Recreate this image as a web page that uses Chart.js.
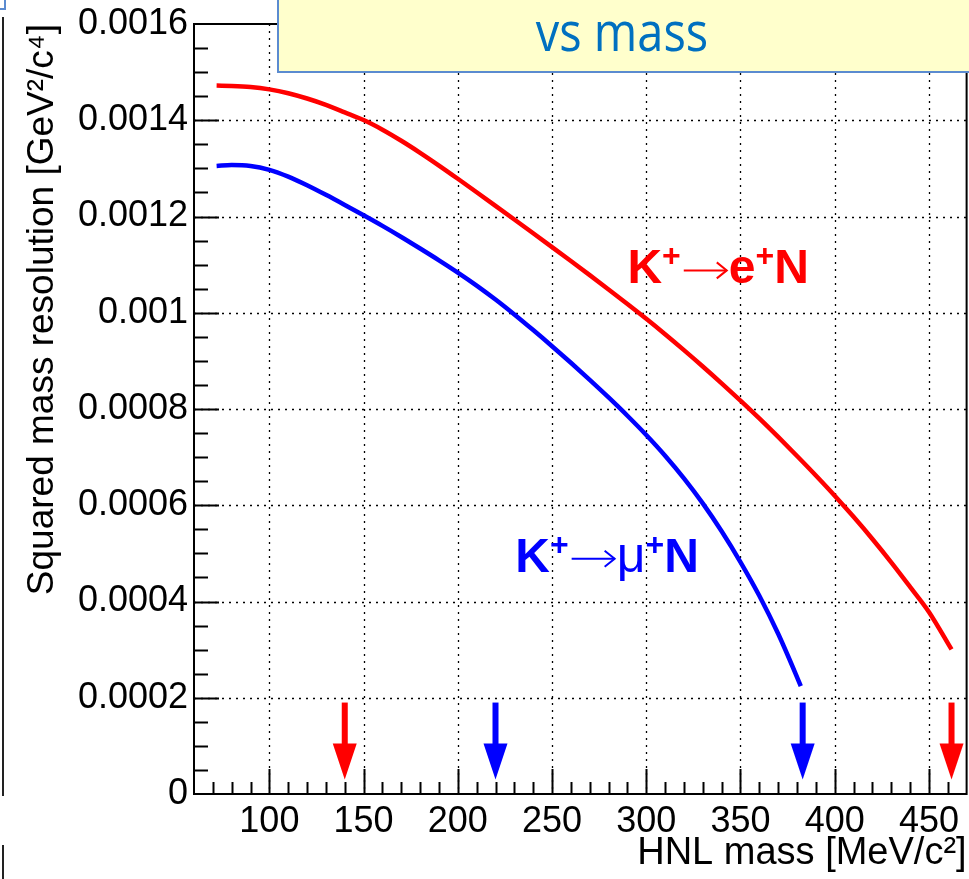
<!DOCTYPE html>
<html lang="en">
<head>
  <meta charset="UTF-8" />
  <title>Squared mass resolution vs mass</title>
  <script src="https://cdn.jsdelivr.net/npm/chart.js"></script>
  <style>
    html, body { margin: 0; padding: 0; background: #fff; }
    #wrap { position: relative; width: 969px; height: 879px; overflow: hidden; }
    #slideBox {
      position: absolute; left: 277px; top: -4px; width: 720px; height: 73px;
      background: #ffffcc; border: 2px solid #5b8bd0;
    }
    #slideTitle {
      position: absolute; left: 472px; top: 3px; width: 300px;
      text-align: center; font-family: "Open Sans", sans-serif; font-size: 54px; line-height: 54px;
      color: #0070c0; transform: scaleX(0.87);
    }
    .edge { position: absolute; left: 2px; width: 0; border-left: 2px solid #222; }
    #cornerBox { position: absolute; left: -12px; top: -6px; width: 14px; height: 12px; border: 2px solid #5b8bd0; }
  </style>
</head>
<body>
<div id="wrap">
  <canvas id="chart"></canvas>
  <div id="cornerBox"></div>
  <div class="edge" style="top:17px;height:779px;"></div>
  <div class="edge" style="top:845px;height:40px;"></div>
  <div id="slideBox"></div>
  <div id="slideTitle">vs mass</div>
</div>

<script>
  // K+ -> e+ N curve
  const massE = [72, 80, 90, 100, 110, 120, 130, 140, 150, 160, 170, 180, 190, 200, 210, 220, 230, 240, 250,
                 260, 270, 280, 290, 300, 310, 320, 330, 340, 350, 360, 370, 380, 390, 400, 410, 420, 430,
                 440, 450, 462];
  const resE = [0.0014720, 0.0014714, 0.0014692, 0.0014642, 0.0014562, 0.0014452, 0.0014320, 0.0014164,
                0.0014004, 0.0013804, 0.0013574, 0.0013324, 0.0013059, 0.0012784, 0.0012504, 0.0012222,
                0.0011938, 0.0011652, 0.0011364, 0.0011074, 0.0010781, 0.0010484, 0.0010182, 0.0009874,
                0.0009554, 0.0009224, 0.0008884, 0.0008534, 0.0008174, 0.0007804, 0.0007419, 0.0007024,
                0.0006619, 0.0006199, 0.0005759, 0.0005299, 0.0004814, 0.0004304, 0.0003784, 0.0003004];

  // K+ -> mu+ N curve
  const massMu = [72, 80, 90, 100, 110, 120, 130, 140, 150, 160, 170, 180, 190, 200, 210, 220, 230, 240,
                  250, 260, 270, 280, 290, 300, 310, 320, 330, 340, 350, 360, 370, 380, 382];
  const resMu = [0.0013050, 0.0013070, 0.0013050, 0.0012970, 0.0012830, 0.0012650, 0.0012450, 0.0012240,
                 0.0012025, 0.0011805, 0.0011575, 0.0011335, 0.0011090, 0.0010835, 0.0010565, 0.0010275,
                 0.0009965, 0.0009640, 0.0009305, 0.0008960, 0.0008605, 0.0008240, 0.0007860, 0.0007460,
                 0.0007030, 0.0006560, 0.0006040, 0.0005460, 0.0004820, 0.0004120, 0.0003330, 0.0002430,
                 0.0002240];

  // kinematic limit arrows (mass) and their vertical extent
  const arrowsE = [140, 462];
  const arrowsMu = [220, 383];
  const arrowTop = 0.00019, arrowHead = 0.000105, arrowTip = 0.00003;

  // text labels: anchor (mass, resolution) of the left baseline
  const labelE = [290, 0.001061];
  const labelMu = [230.5, 0.000462];

  const xTicks = [100, 150, 200, 250, 300, 350, 400, 450];
  const yTicks = [0, 0.0002, 0.0004, 0.0006, 0.0008, 0.001, 0.0012, 0.0014, 0.0016];
  const yTickLabels = ['0', '0.0002', '0.0004', '0.0006', '0.0008', '0.001', '0.0012', '0.0014', '0.0016'];
  const xMin = 60, xMax = 470, yMin = 0, yMax = 0.0016;

  const RED = '#ff0000', BLUE = '#0000ff';
  const SANS = '"Liberation Sans", Arial, sans-serif';

  function line(ctx, x1, y1, x2, y2) {
    ctx.beginPath(); ctx.moveTo(x1, y1); ctx.lineTo(x2, y2); ctx.stroke();
  }

  function drawArrow(ctx, x, y, m, color) {
    const px = x.getPixelForValue(m);
    const top = y.getPixelForValue(arrowTop), head = y.getPixelForValue(arrowHead), tip = y.getPixelForValue(arrowTip);
    ctx.fillStyle = color;
    ctx.fillRect(px - 3, top, 6, head - top + 1);
    ctx.beginPath();
    ctx.moveTo(px - 12, head); ctx.lineTo(px + 12, head); ctx.lineTo(px, tip); ctx.closePath();
    ctx.fill();
  }

  // K+ -> l+ N, with a thin ROOT-like arrow
  function drawDecay(ctx, px, py, lepton, color, leptonFont) {
    ctx.fillStyle = color;
    ctx.strokeStyle = color;
    ctx.textBaseline = 'alphabetic';
    ctx.textAlign = 'left';
    const big = 'bold 48px ' + SANS;
    const sup = 'bold 32px ' + SANS;
    let cx = px;
    const put = (t, f, dy) => {
      ctx.font = f;
      ctx.fillText(t, cx, py + dy);
      cx += ctx.measureText(t).width;
    };
    put('K', big, 0);
    put('+', sup, -17);
    // arrow
    const ay = py - 13;
    ctx.lineWidth = 2;
    line(ctx, cx + 3, ay, cx + 46, ay);
    ctx.beginPath();
    ctx.moveTo(cx + 36, ay - 8); ctx.lineTo(cx + 46, ay); ctx.lineTo(cx + 36, ay + 8);
    ctx.stroke();
    cx += 48;
    put(lepton, leptonFont, 0);
    put('+', sup, -17);
    put('N', big, 0);
  }

  const framePlugin = {
    id: 'framePlugin',
    beforeDatasetsDraw(chart) {
      const { ctx, chartArea: a, scales: { x, y } } = chart;
      ctx.save();
      ctx.strokeStyle = '#000';
      ctx.lineWidth = 1.3;
      ctx.setLineDash([2, 5]);
      xTicks.forEach(v => {
        const px = Math.round(x.getPixelForValue(v)) + 0.5;
        line(ctx, px, a.top, px, a.bottom);
      });
      yTicks.forEach(v => {
        if (v <= yMin || v >= yMax) return;
        const py = Math.round(y.getPixelForValue(v)) + 0.5;
        line(ctx, a.left, py, a.right, py);
      });
      ctx.restore();
    },
    afterDatasetsDraw(chart) {
      const { ctx, chartArea: a, scales: { x, y } } = chart;
      ctx.save();
      ctx.strokeStyle = '#000';
      ctx.lineWidth = 2;
      // inward ticks
      for (let v = xMin + 10; v < xMax; v += 10) {
        const px = Math.round(x.getPixelForValue(v)) + 0.5;
        const len = v % 50 === 0 ? 25 : 12;
        line(ctx, px, a.bottom, px, a.bottom - len);
      }
      for (let i = 1; i < 32; i++) {
        const py = Math.round(y.getPixelForValue(i * 0.00005)) + 0.5;
        const len = i % 4 === 0 ? 25 : 14;
        line(ctx, a.left, py, a.left + len, py);
      }
      ctx.strokeRect(a.left, a.top, a.right - a.left, a.bottom - a.top);

      arrowsE.forEach(m => drawArrow(ctx, x, y, m, RED));
      arrowsMu.forEach(m => drawArrow(ctx, x, y, m, BLUE));

      drawDecay(ctx, x.getPixelForValue(labelE[0]), y.getPixelForValue(labelE[1]), 'e', RED, 'bold 48px ' + SANS);
      drawDecay(ctx, x.getPixelForValue(labelMu[0]), y.getPixelForValue(labelMu[1]), '\u03bc', BLUE, '50px ' + SANS);
      ctx.restore();
    }
  };

  const tickFont = { family: SANS, size: 36, lineHeight: 1 };

  new Chart(document.getElementById('chart'), {
    type: 'scatter',
    data: {
      datasets: [
        {
          label: 'K+ -> e+ N',
          data: massE.map((m, i) => ({ x: m, y: resE[i] })),
          borderColor: RED, backgroundColor: RED,
          showLine: true, borderWidth: 4.5, pointRadius: 0, cubicInterpolationMode: 'monotone'
        },
        {
          label: 'K+ -> mu+ N',
          data: massMu.map((m, i) => ({ x: m, y: resMu[i] })),
          borderColor: BLUE, backgroundColor: BLUE,
          showLine: true, borderWidth: 4.5, pointRadius: 0, cubicInterpolationMode: 'monotone'
        }
      ]
    },
    options: {
      responsive: true,
      maintainAspectRatio: false,
      animation: false,
      layout: { padding: { top: 19, right: 1, left: 0, bottom: 0 } },
      plugins: { legend: { display: false }, tooltip: { enabled: false } },
      scales: {
        x: {
          type: 'linear', min: xMin, max: xMax,
          afterBuildTicks: s => { s.ticks = xTicks.map(v => ({ value: v })); },
          afterFit: s => { s.height = 85; },
          grid: { display: false, drawTicks: false },
          border: { display: false },
          ticks: { color: '#000', font: tickFont, padding: 10, autoSkip: false, maxRotation: 0 },
          title: {
            display: true, text: 'HNL mass [MeV/c\u00b2]', align: 'end', color: '#000',
            font: { family: SANS, size: 38 }, padding: { top: 0, bottom: 3 }
          }
        },
        y: {
          type: 'linear', min: yMin, max: yMax,
          afterBuildTicks: s => { s.ticks = yTicks.map(v => ({ value: v })); },
          afterFit: s => { s.width = 194; },
          grid: { display: false, drawTicks: false },
          border: { display: false },
          ticks: { color: '#000', font: tickFont, padding: 6, callback: (v, i) => yTickLabels[i] },
          title: {
            display: true, text: 'Squared mass resolution [GeV\u00b2/c\u2074]', align: 'end', color: '#000',
            font: { family: SANS, size: 37 }, padding: { top: 21, bottom: 0 }
          }
        }
      }
    },
    plugins: [framePlugin]
  });
</script>
</body>
</html>
